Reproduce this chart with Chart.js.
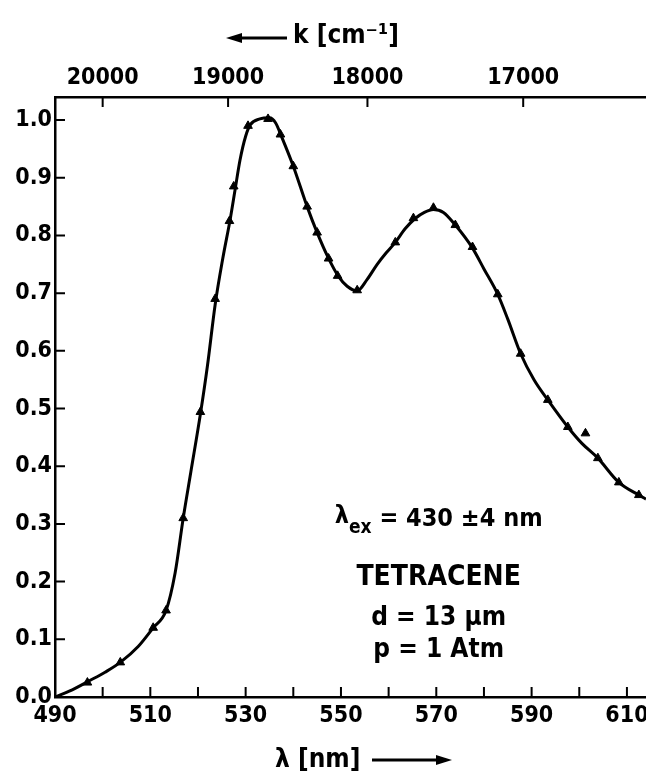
<!DOCTYPE html>
<html>
<head>
<meta charset="utf-8">
<script src="https://cdn.jsdelivr.net/npm/chart.js@4.4.0/dist/chart.umd.min.js"></script>
<style>
    html, body { margin: 0; padding: 0; background: #fff; }
    #wrap { width: 646px; height: 777px; }
</style>
</head>
<body>
<div id="wrap"><canvas id="myChart" width="646" height="777"></canvas></div>
<script>
/*

Tetracene emission spectrum.

*/

// Smooth curve: wavelength (nm) and relative intensity
var curveNm = [490, 493, 497.4, 500.5, 503.7, 507.5, 510.6, 513.3, 515.2, 516.9, 518.5, 520.5, 522.0, 523.6, 525.2, 526.8, 527.8, 528.8, 530.0, 531.0, 533.0, 535.0, 536.3, 537.5, 540.0, 542.9, 545.0, 547.3, 549.4, 551.3, 553.4, 555.5, 557.6, 559.5, 561.4, 563.5, 565.5, 567.5, 569.4, 571.5, 574.0, 577.6, 580.0, 582.9, 585.0, 587.7, 590.5, 593.4, 597.6, 600.5, 603.9, 608.3, 612.5, 614];
var curveI = [0.0, 0.010, 0.029, 0.043, 0.060, 0.088, 0.120, 0.150, 0.215, 0.310, 0.390, 0.490, 0.575, 0.680, 0.760, 0.830, 0.880, 0.930, 0.972, 0.992, 1.002, 1.004, 0.995, 0.972, 0.920, 0.850, 0.805, 0.762, 0.730, 0.712, 0.704, 0.724, 0.750, 0.770, 0.788, 0.812, 0.829, 0.840, 0.845, 0.840, 0.818, 0.778, 0.742, 0.698, 0.655, 0.595, 0.550, 0.515, 0.468, 0.440, 0.414, 0.372, 0.350, 0.343];

// Measured points (triangles)
var pointNm = [496.8, 503.7, 510.6, 513.3, 516.9, 520.5, 523.6, 526.6, 527.5, 530.5, 534.7, 537.3, 540.0, 542.9, 545.0, 547.4, 549.3, 553.4, 561.4, 565.2, 569.4, 574.0, 577.6, 582.9, 587.7, 593.4, 597.6, 601.3, 603.9, 608.3, 612.5];
var pointI = [0.025, 0.060, 0.120, 0.150, 0.310, 0.494, 0.690, 0.825, 0.885, 0.990, 1.002, 0.975, 0.920, 0.850, 0.805, 0.760, 0.730, 0.705, 0.788, 0.830, 0.848, 0.818, 0.780, 0.698, 0.595, 0.515, 0.468, 0.457, 0.414, 0.372, 0.350];

// Axis ticks
var nmTicks = [490, 500, 510, 520, 530, 540, 550, 560, 570, 580, 590, 600, 610];
var kTicks = [20000, 19000, 18000, 17000];
var intensityTicks = [0, 0.1, 0.2, 0.3, 0.4, 0.5, 0.6, 0.7, 0.8, 0.9, 1.0];

var FONT = "'DejaVu Sans Condensed', 'DejaVu Sans', sans-serif";
Chart.defaults.font.family = FONT;
Chart.defaults.color = '#000';

// Short tick marks pointing into the plot
var insideTicks = {
    id: 'insideTicks',
    afterDraw: function (chart) {
        var c = chart.ctx;
        var a = chart.chartArea;
        var sx = chart.scales.x, st = chart.scales.x2, sy = chart.scales.y;
        c.save();
        c.strokeStyle = '#000';
        c.lineWidth = 2;
        c.beginPath();
        sx.ticks.forEach(function (t, i) {
            var p = sx.getPixelForTick(i);
            c.moveTo(p, a.bottom); c.lineTo(p, a.bottom - 10);
        });
        st.ticks.forEach(function (t, i) {
            var p = st.getPixelForTick(i);
            c.moveTo(p, a.top); c.lineTo(p, a.top + 10);
        });
        sy.ticks.forEach(function (t, i) {
            var p = sy.getPixelForTick(i);
            c.moveTo(a.left, p); c.lineTo(a.left + 10, p);
        });
        c.stroke();
        c.restore();
    }
};

function arrow(c, x1, x2, y) {
    // shaft from x1 to x2, head at x2
    var dir = x2 > x1 ? 1 : -1;
    c.beginPath();
    c.moveTo(x1, y); c.lineTo(x2 - dir * 12, y);
    c.stroke();
    c.beginPath();
    c.moveTo(x2, y); c.lineTo(x2 - dir * 16, y - 5); c.lineTo(x2 - dir * 16, y + 5);
    c.closePath();
    c.fill();
}

// Axis titles with arrows and the sample notes
var notes = {
    id: 'notes',
    afterDraw: function (chart) {
        var c = chart.ctx;
        var sx = chart.scales.x, sy = chart.scales.y;
        c.save();
        c.fillStyle = '#000';
        c.strokeStyle = '#000';
        c.lineWidth = 3;
        c.textBaseline = 'middle';

        // top title
        c.font = 'bold 26px ' + FONT;
        c.textAlign = 'left';
        c.fillText('k [cm\u207B\u00B9]', 293, 36);
        arrow(c, 287, 226, 38);

        // bottom title
        c.fillText('\u03BB [nm]', 275, 760);
        arrow(c, 372, 452, 760);

        // excitation line: lambda with subscript
        var cx = sx.getPixelForValue(570.5);
        var y0 = sy.getPixelForValue(0.307);
        var big = 'bold 25px ' + FONT, small = 'bold 19px ' + FONT;
        c.font = big; var w1 = c.measureText('\u03BB').width;
        c.font = small; var w2 = c.measureText('ex').width;
        c.font = big; var w3 = c.measureText(' = 430 \u00B14 nm').width;
        var x = cx - (w1 + w2 + w3) / 2;
        c.font = big; c.fillText('\u03BB', x, y0 - 3);
        c.font = small; c.fillText('ex', x + w1, y0 + 8);
        c.font = big; c.fillText(' = 430 \u00B14 nm', x + w1 + w2, y0);

        c.textAlign = 'center';
        c.font = 'bold 28px ' + FONT;
        c.fillText('TETRACENE', cx, sy.getPixelForValue(0.206));
        c.font = 'bold 26px ' + FONT;
        c.fillText('d = 13 \u03BCm', cx, sy.getPixelForValue(0.137));
        c.fillText('p = 1 Atm', cx, sy.getPixelForValue(0.081));
        c.restore();
    }
};

var tickFont = { size: 23, weight: 'bold' };
var noGrid = { display: false, drawTicks: false };

const ctx = document.getElementById('myChart').getContext('2d');
const myChart = new Chart(ctx, {
    type: 'line',
    data: {
        datasets: [{
            data: curveNm.map(function (x, i) { return { x: x, y: curveI[i] }; }),
            borderColor: '#000',
            borderWidth: 3,
            pointRadius: 0,
            cubicInterpolationMode: 'monotone',
            fill: false
        }, {
            data: pointNm.map(function (x, i) { return { x: x, y: pointI[i] }; }),
            showLine: false,
            pointStyle: 'triangle',
            pointRadius: 5,
            pointBackgroundColor: '#000',
            pointBorderColor: '#000',
            pointBorderWidth: 1
        }]
    },
    options: {
        responsive: false,
        animation: false,
        layout: { padding: 0, autoPadding: false },
        plugins: {
            legend: { display: false },
            tooltip: { enabled: false }
        },
        scales: {
            x: {
                type: 'linear',
                position: 'bottom',
                min: 490,
                max: 614,
                grid: noGrid,
                border: { color: '#000', width: 2.5 },
                afterBuildTicks: function (s) { s.ticks = nmTicks.map(function (v) { return { value: v }; }); },
                afterFit: function (s) { s.height = 80; s.paddingLeft = 0; s.paddingRight = 0; },
                ticks: {
                    font: tickFont,
                    padding: 5,
                    maxRotation: 0,
                    autoSkip: false,
                    callback: function (v) { return (v - 490) % 20 === 0 ? String(v) : ''; }
                }
            },
            x2: {
                type: 'linear',
                position: 'top',
                min: 490,
                max: 614,
                grid: noGrid,
                border: { color: '#000', width: 2.5 },
                afterBuildTicks: function (s) { s.ticks = kTicks.map(function (k) { return { value: 1e7 / k }; }); },
                afterFit: function (s) { s.height = 97; s.paddingLeft = 0; s.paddingRight = 0; },
                ticks: {
                    font: tickFont,
                    padding: 5,
                    maxRotation: 0,
                    autoSkip: false,
                    callback: function (v, i) { return String(kTicks[i]); }
                }
            },
            y: {
                type: 'linear',
                min: 0,
                max: 1.04,
                grid: noGrid,
                border: { color: '#000', width: 2.5 },
                afterBuildTicks: function (s) { s.ticks = intensityTicks.map(function (v) { return { value: v }; }); },
                afterFit: function (s) { s.width = 55; s.paddingTop = 0; s.paddingBottom = 0; },
                ticks: {
                    font: tickFont,
                    padding: 3,
                    autoSkip: false,
                    callback: function (v) { return v.toFixed(1); }
                }
            }
        }
    },
    plugins: [insideTicks, notes]
});
</script>
</body>
</html>
